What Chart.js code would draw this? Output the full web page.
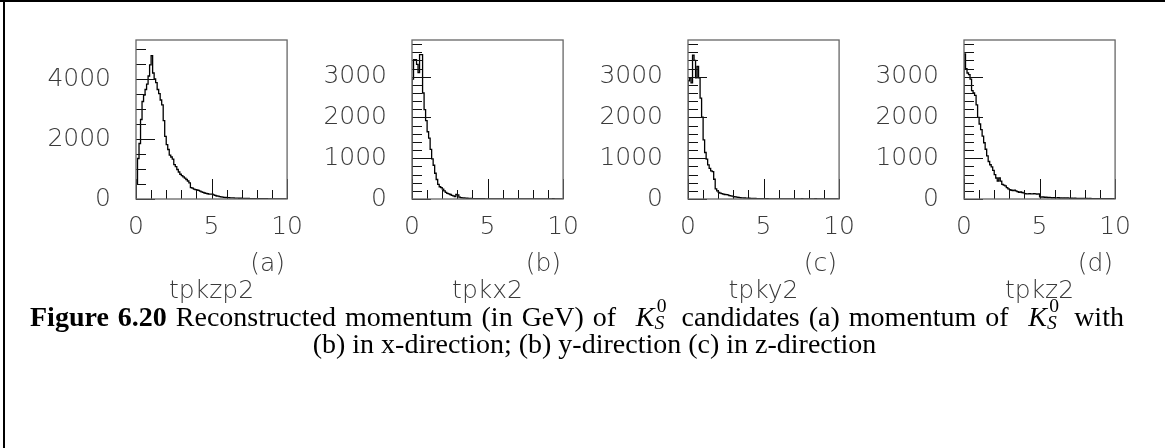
<!DOCTYPE html>
<html>
<head>
<meta charset="utf-8">
<title>K0s momentum</title>
<script src="https://cdn.jsdelivr.net/npm/chart.js@4.4.1/dist/chart.umd.min.js"></script>
<style>
  html, body { margin: 0; padding: 0; background: #fff; }
  #page { position: relative; width: 1165px; height: 448px; overflow: hidden; background: #fff; }
  .ruleTop { position: absolute; left: 0; top: 0; width: 1165px; height: 2px; background: #000; }
  .ruleLeft { position: absolute; left: 3px; top: 0; width: 2px; height: 448px; background: #000; }
  .panel { position: absolute; top: 0; width: 310px; height: 320px; }
  #caption {
    position: absolute; left: 30px; top: 303px; width: 1115px;
    font-family: "Liberation Serif", "Times New Roman", serif;
    font-size: 28px; line-height: 27px; color: #000; white-space: nowrap;
  }
  #caption .l1 { word-spacing: 2px; }
  #caption .l2 { text-align: center; padding-left: 14px; }
  .ks { white-space: nowrap; margin: 0 0.55em 0 0.7em; }
  .ks .ss {
    display: inline-block; position: relative; width: 0.6em; height: 1em;
    font-size: 0.7em; vertical-align: baseline;
  }
  .ks .sp { position: absolute; left: 0.12em; top: -0.72em; font-style: normal; }
  .ks .sb { position: absolute; left: 0; top: 0.14em; font-style: italic; }
</style>
</head>
<body>
<div id="page">
  <div class="ruleTop"></div>
  <div class="ruleLeft"></div>
  <canvas id="histP" class="panel" width="310" height="320" style="left:6px"></canvas>
  <canvas id="histX" class="panel" width="310" height="320" style="left:282px"></canvas>
  <canvas id="histY" class="panel" width="310" height="320" style="left:558px"></canvas>
  <canvas id="histZ" class="panel" width="310" height="320" style="left:834px"></canvas>
  <div id="caption">
    <div class="l1"><b>Figure 6.20</b> Reconstructed momentum (in GeV) of<span class="ks"><i>K</i><span class="ss"><span class="sp">0</span><span class="sb">S</span></span></span>candidates (a) momentum of<span class="ks"><i>K</i><span class="ss"><span class="sp">0</span><span class="sb">S</span></span></span>with</div>
    <div class="l2">(b) in x-direction; (b) y-direction (c) in z-direction</div>
  </div>
</div>
<script>
// ================= HISTOGRAM DATA =================
// 100 bins of 0.1 GeV from 0 to 10, entries per bin
const binWidth = 0.1;

const countsP = [
  500, 1350, 1850, 2650, 3250, 3460, 3650, 3830, 4100, 4470,
  4780, 4200, 4000, 3880, 3650, 3510, 3300, 3140, 2610, 2090,
  1810, 1650, 1460, 1400, 1330, 1143, 1080, 984, 900, 825,
  780, 740, 698, 650, 600, 540, 381, 360, 330, 310,
  300, 285, 260, 240, 220, 200, 190, 175, 165, 160,
  160, 140, 120, 100, 95, 80, 70, 60, 55, 50,
  48, 45, 40, 40, 35, 32, 30, 28, 25, 25,
  22, 20, 20, 18, 18, 15, 15, 14, 12, 12,
  12, 10, 10, 9, 9, 8, 8, 7, 7, 6,
  6, 5, 5, 5, 4, 4, 4, 3, 3, 3
];

const countsX = [
  2940, 3420, 3420, 3300, 3100, 3540, 3540, 2600, 2194, 1920,
  1649, 1492, 1218, 984, 828, 632, 478, 360, 300, 281,
  243, 200, 164, 140, 126, 110, 87, 75, 60, 110,
  100, 45, 33, 28, 25, 20, 18, 15, 15, 12,
  10, 10, 9, 8, 8, 7, 6, 6, 5, 5,
  4, 4, 4, 3, 3, 3, 3, 2, 2, 2,
  2, 2, 2, 2, 1, 1, 1, 1, 1, 1,
  1, 1, 1, 1, 1, 1, 1, 1, 1, 1,
  1, 1, 1, 1, 1, 1, 1, 1, 1, 1,
  1, 1, 1, 8, 1, 1, 1, 1, 1, 1
];

const countsY = [
  2900, 2970, 2850, 3530, 3400, 2970, 3250, 2970, 2475, 2007,
  1452, 1140, 980, 838, 749, 690, 672, 485, 250, 200,
  164, 145, 130, 120, 110, 105, 100, 85, 75, 70,
  55, 50, 45, 40, 35, 30, 28, 25, 22, 20,
  18, 16, 15, 14, 12, 10, 10, 9, 8, 8,
  7, 6, 6, 5, 5, 5, 4, 4, 4, 3,
  3, 3, 3, 2, 2, 2, 2, 2, 2, 2,
  2, 2, 2, 2, 2, 10, 2, 2, 2, 2,
  2, 2, 2, 2, 10, 2, 2, 2, 2, 2,
  1, 1, 1, 1, 1, 1, 1, 1, 1, 1
];

const countsZ = [
  3560, 3200, 3090, 3050, 2940, 2660, 2600, 2540, 2310, 2000,
  1840, 1700, 1540, 1380, 1220, 1060, 920, 840, 790, 700,
  600, 515, 440, 520, 440, 360, 340, 320, 280, 250,
  230, 215, 205, 220, 200, 180, 165, 175, 160, 150,
  130, 125, 125, 130, 125, 125, 130, 125, 120, 125,
  50, 45, 50, 40, 45, 35, 40, 35, 30, 35,
  30, 28, 32, 25, 28, 22, 25, 20, 24, 20,
  18, 20, 16, 18, 15, 17, 14, 15, 12, 14,
  12, 13, 10, 12, 10, 11, 9, 10, 8, 9,
  8, 8, 7, 8, 6, 7, 6, 6, 5, 6
];

// ================= AXES =================
const xLabels = [0, 5, 10];
const xMinor = [1, 2, 3, 4, 6, 7, 8, 9];

const yMaxP = 5300;
const yLabelsP = [0, 2000, 4000];
const yMinorP = [500, 1000, 1500, 2500, 3000, 3500, 4500, 5000];

const yMaxXYZ = 3900;
const yLabelsXYZ = [0, 1000, 2000, 3000];
const yMinorXYZ = [200, 400, 600, 800, 1200, 1400, 1600, 1800, 2200, 2400, 2600, 2800, 3200, 3400, 3600, 3800];

const panelNames = ["tpkzp2", "tpkx2", "tpky2", "tpkz2"];
const panelTags = ["(a)", "(b)", "(c)", "(d)"];

// ================= STYLE =================
const labelFont = { family: "DejaVu Sans", size: 25, weight: 200 };
const labelColor = "#3a3a3a";

// outline of a histogram: start on the baseline, step across every bin, drop back at the end
function histPoints(counts) {
  const pts = [{ x: 0, y: 0 }];
  counts.forEach((c, i) => pts.push({ x: i * binWidth, y: c }));
  pts.push({ x: counts.length * binWidth, y: 0 });
  return pts;
}

// frame + ticks drawn inside the box, plus the variable name and panel tag
const frameTicks = {
  id: "frameTicks",
  afterDatasetsDraw(chart, args, opts) {
    const { ctx, chartArea: a, scales: { x, y } } = chart;
    ctx.save();

    ctx.strokeStyle = "#111";
    ctx.lineWidth = 1;
    ctx.beginPath();
    xLabels.forEach(v => {
      const px = Math.round(x.getPixelForValue(v)) + 0.5;
      ctx.moveTo(px, a.bottom); ctx.lineTo(px, a.bottom - 20);
    });
    xMinor.forEach(v => {
      const px = Math.round(x.getPixelForValue(v)) + 0.5;
      ctx.moveTo(px, a.bottom); ctx.lineTo(px, a.bottom - 9);
    });
    opts.yMajor.forEach(v => {
      const py = Math.round(y.getPixelForValue(v)) + 0.5;
      ctx.moveTo(a.left, py); ctx.lineTo(a.left + 19, py);
    });
    opts.yMinor.forEach(v => {
      const py = Math.round(y.getPixelForValue(v)) + 0.5;
      ctx.moveTo(a.left, py); ctx.lineTo(a.left + 10, py);
    });
    ctx.stroke();

    ctx.strokeStyle = "#666";
    ctx.lineWidth = 1.3;
    ctx.strokeRect(a.left, a.top, a.right - a.left, a.bottom - a.top);

    ctx.fillStyle = labelColor;
    ctx.font = "200 25px 'DejaVu Sans'";
    ctx.textBaseline = "alphabetic";
    ctx.textAlign = "right";
    ctx.fillText(opts.tag, a.right - 2, 271);
    ctx.textAlign = "center";
    ctx.fillText(opts.name, x.getPixelForValue(5), 298);

    ctx.restore();
  }
};

function makePanel(id, counts, yMax, yMajor, yMinor, name, tag) {
  return new Chart(document.getElementById(id), {
    type: "line",
    data: {
      datasets: [{
        data: histPoints(counts),
        borderColor: "#000",
        borderWidth: 1.3,
        stepped: true,
        pointRadius: 0,
        fill: false
      }]
    },
    options: {
      responsive: false,
      animation: false,
      events: [],
      layout: { padding: { left: 0, top: 32, right: 26, bottom: 0 } },
      plugins: {
        legend: { display: false },
        tooltip: { enabled: false },
        frameTicks: { yMajor: yMajor, yMinor: yMinor, name: name, tag: tag }
      },
      scales: {
        x: {
          type: "linear", min: 0, max: 10,
          grid: { display: false, drawTicks: false },
          border: { display: false },
          afterBuildTicks: s => { s.ticks = xLabels.map(v => ({ value: v })); },
          afterFit: s => { s.height = 121; },
          ticks: { padding: 13, color: labelColor, font: labelFont, maxRotation: 0, autoSkip: false, callback: v => String(v) }
        },
        y: {
          type: "linear", min: 0, max: yMax,
          grid: { display: false, drawTicks: false },
          border: { display: false },
          afterBuildTicks: s => { s.ticks = yMajor.map(v => ({ value: v })); },
          afterFit: s => { s.width = 130; },
          ticks: { padding: 25, color: labelColor, font: labelFont, autoSkip: false, callback: v => String(v) }
        }
      }
    },
    plugins: [frameTicks]
  });
}

makePanel("histP", countsP, yMaxP, yLabelsP, yMinorP, panelNames[0], panelTags[0]);
makePanel("histX", countsX, yMaxXYZ, yLabelsXYZ, yMinorXYZ, panelNames[1], panelTags[1]);
makePanel("histY", countsY, yMaxXYZ, yLabelsXYZ, yMinorXYZ, panelNames[2], panelTags[2]);
makePanel("histZ", countsZ, yMaxXYZ, yLabelsXYZ, yMinorXYZ, panelNames[3], panelTags[3]);
</script>
</body>
</html>
